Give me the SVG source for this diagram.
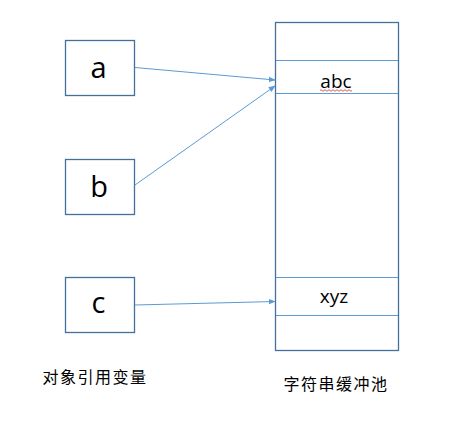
<svg xmlns="http://www.w3.org/2000/svg" width="454" height="438" viewBox="0 0 454 438">
<style>
.box{fill:#fff;stroke:#41719C;stroke-width:1.3}
.div{stroke:#5B9BD5;stroke-width:1.2}
.lbl{font-family:"Open Sans","Liberation Sans",sans-serif;fill:#000;text-anchor:middle}
.big{font-size:29px}
.cjk{font-family:"Noto Sans CJK SC","Noto Sans",sans-serif;font-size:16px;letter-spacing:1.5px;fill:#000;text-anchor:middle}
.conn{stroke:#5B9BD5;stroke-width:1;fill:none;marker-end:url(#ah)}
</style>
<defs>
<marker id="ah" viewBox="0 0 10 10" refX="9" refY="5" markerWidth="7" markerHeight="7" orient="auto" markerUnits="userSpaceOnUse">
<path d="M0,1 L10,5 L0,9 z" fill="#5B9BD5"/>
</marker>
</defs>
<rect width="454" height="438" fill="#fff"/>
<g id="node-a"><rect class="box" x="65.5" y="40.5" width="69" height="55"/><text class="lbl big" x="98.5" y="78">a</text></g>
<g id="node-b"><rect class="box" x="65.5" y="159.5" width="69" height="55"/><text class="lbl big" x="99" y="197">b</text></g>
<g id="node-c"><rect class="box" x="65.5" y="277.5" width="69" height="55"/><text class="lbl big" x="98.5" y="313">c</text></g>
<g id="pool">
<rect class="box" x="275.5" y="22.5" width="123" height="328"/>
<line class="div" x1="276" y1="60.5" x2="398" y2="60.5"/>
<line class="div" x1="276" y1="93.5" x2="398" y2="93.5"/>
<line class="div" x1="276" y1="277.5" x2="398" y2="277.5"/>
<line class="div" x1="276" y1="315.5" x2="398" y2="315.5"/>
<text class="lbl" x="336" y="87.5" font-size="19">abc</text>
<path d="M320,90.5 q1,-1.5 2,0 t2,0 t2,0 t2,0 t2,0 t2,0 t2,0 t2,0 t2,0 t2,0 t2,0 t2,0 t2,0 t2,0 t2,0 t2,0" fill="none" stroke="#E03030" stroke-width="0.8"/>
<text class="lbl" x="334" y="302.5" font-size="19">xyz</text>
</g>
<g id="label-vars"><text class="cjk" x="95" y="383">对象引用变量</text></g>
<g id="label-pool"><text class="cjk" x="336" y="390">字符串缓冲池</text></g>
<g id="connectors">
<line class="conn" x1="135" y1="67.5" x2="275" y2="80"/>
<line class="conn" x1="135" y1="185" x2="275" y2="86"/>
<line class="conn" x1="135" y1="305" x2="275" y2="301.5"/>
</g>
</svg>
